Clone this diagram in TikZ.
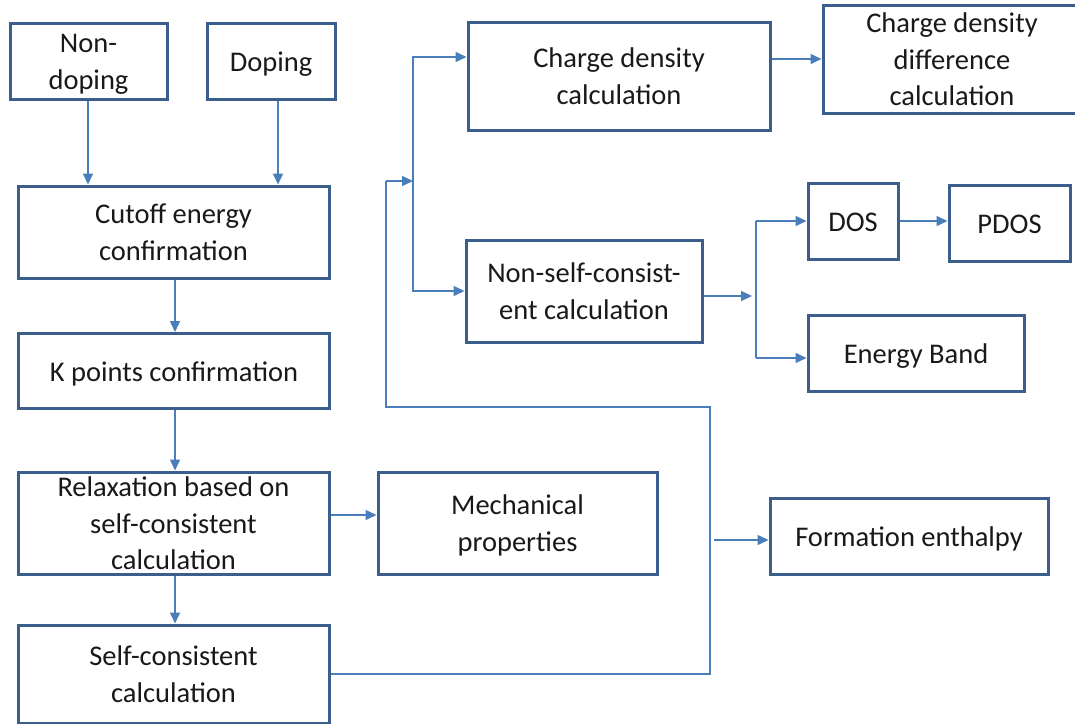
\documentclass[tikz,border=0pt]{standalone}
\usepackage{fontspec}
\setmainfont{Carlito}
\usetikzlibrary{arrows.meta}
\definecolor{boxc}{HTML}{3B5E8C}
\definecolor{arrc}{HTML}{4A7EBB}
\begin{document}
\begin{tikzpicture}[x=1pt,y=-1pt,
  box/.style={draw=boxc,line width=3pt,fill=white,align=center,inner sep=0pt,
    font=\fontsize{28.5}{36.5}\selectfont,text=black!90,
    text height=28pt,text depth=8pt},
  two/.style={text height=64.5pt},
  three/.style={text height=93pt,text depth=0pt},
  conn/.style={draw=arrc,line width=1.5pt},
  arr/.style={conn,-{Triangle[length=11pt,width=10pt]}}]
\useasboundingbox (0,0) rectangle (1075,723);
\clip (0,0) rectangle (1075,723);
\fill[white] (0,0) rectangle (1075,723);
% left column
\node[box,two,minimum width=157pt,minimum height=76pt] (nd) at (88.5,61) {Non-\\doping};
\node[box,minimum width=128pt,minimum height=76pt] (dop) at (271,61) {Doping};
\node[box,two,minimum width=311pt,minimum height=92pt] (cut) at (173.5,232) {Cutoff energy\\confirmation};
\node[box,minimum width=311pt,minimum height=75pt] (kp) at (174,371) {K points confirmation};
\node[box,three,minimum width=311pt,minimum height=102pt] (rel) at (173.5,523) {Relaxation based on\\self-consistent\\calculation};
\node[box,two,minimum width=311pt,minimum height=98pt] (sc) at (173.5,674) {Self-consistent\\calculation};
\node[box,two,minimum width=279pt,minimum height=102pt] (mech) at (517.5,523) {Mechanical\\properties};
\node[box,minimum width=278pt,minimum height=76pt] (fe) at (909,536) {Formation enthalpy};
% right part
\node[box,two,minimum width=302pt,minimum height=108pt] (cd) at (619,76) {Charge density\\calculation};
\node[box,three,minimum width=258pt,minimum height=108pt] (cdd) at (952,59) {Charge density\\difference\\calculation};
\node[box,two,minimum width=236pt,minimum height=102pt] (nsc) at (584,291) {Non-self-consist-\\ent calculation};
\node[box,minimum width=90pt,minimum height=76pt] (dos) at (853,221) {DOS};
\node[box,minimum width=121pt,minimum height=76pt] (pdos) at (1009.5,223) {PDOS};
\node[box,minimum width=216pt,minimum height=76pt] (eb) at (916,353) {Energy Band};
% coordinates
\coordinate (busA) at (413,181);
\coordinate (loopL) at (386,407);
\coordinate (loopR) at (710,407);
\coordinate (feS) at (714,540);
\coordinate (busB) at (756,296);
% connectors
\draw[arr] ([xshift=-0.5pt]nd.south) -- ([xshift=-0.5pt]nd.south |- cut.north);
\draw[arr] ([xshift=7pt]dop.south) -- ([xshift=7pt]dop.south |- cut.north);
\draw[arr] ([xshift=1.5pt]cut.south) -- ([xshift=1.5pt]cut.south |- kp.north);
\draw[arr] ([xshift=1pt]kp.south) -- ([xshift=1pt]kp.south |- rel.north);
\draw[arr] ([xshift=1.5pt]rel.south) -- ([xshift=1.5pt]rel.south |- sc.north);
\draw[arr] ([yshift=8pt]rel.east) -- ([yshift=8pt]rel.east -| mech.west);
\draw[conn] (sc.east) -| (loopR) -- (loopL) -- (loopL |- busA);
\draw[arr] (loopL |- busA) -- (busA);
\draw[arr] (feS) -- (feS -| fe.west);
\draw[arr] (busA) |- ([yshift=19pt]cd.west);
\draw[arr] (busA) |- (nsc.west);
\draw[arr] (cd.east |- cdd.west) -- (cdd.west);
\draw[arr] (busB -| nsc.east) -- ([xshift=-4pt]busB);
\draw[arr] (busB |- dos.west) -- (dos.west);
\draw[conn] (busB |- dos.west) -- ([yshift=-5pt]busB |- eb.west);
\draw[arr] ([yshift=-5pt]busB |- eb.west) -- ([yshift=-5pt]eb.west);
\draw[arr] (dos.east) -- (dos.east -| pdos.west);
\end{tikzpicture}
\end{document}
